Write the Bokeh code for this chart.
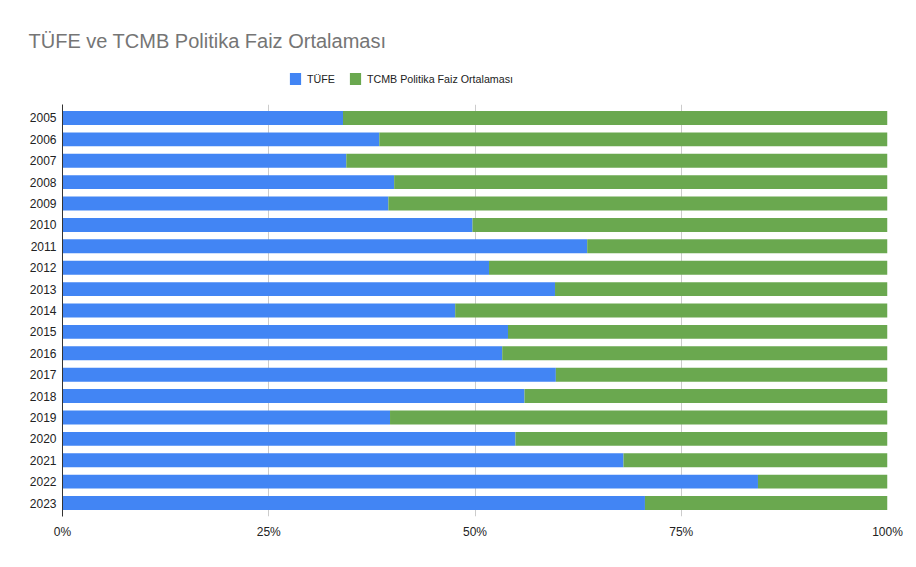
from bokeh.plotting import figure
from bokeh.layouts import column
from bokeh.models import (FactorRange, Range1d, FixedTicker, Legend, LegendItem,
                          ColumnDataSource)
from bokeh.embed import file_html
from bokeh.resources import INLINE

years = ["2005", "2006", "2007", "2008", "2009", "2010", "2011", "2012", "2013", "2014",
         "2015", "2016", "2017", "2018", "2019", "2020", "2021", "2022", "2023"]
tufe = [34.0, 38.4, 34.4, 40.2, 39.5, 49.7, 63.6, 51.7, 59.7, 47.6,
        54.0, 53.3, 59.8, 56.0, 39.7, 54.9, 68.0, 84.3, 70.6]
faiz = [66.0, 61.6, 65.6, 59.8, 60.5, 50.3, 36.4, 48.3, 40.3, 52.4,
        46.0, 46.7, 40.2, 44.0, 60.3, 45.1, 32.0, 15.7, 29.4]
x_ticks = [0, 25, 50, 75, 100]
x_labels = ["0%", "25%", "50%", "75%", "100%"]
series_names = ["TÜFE", "TCMB Politika Faiz Ortalaması"]
colors = ["#4285F4", "#6AA84F"]
title_text = "TÜFE ve TCMB Politika Faiz Ortalaması"

FONT = "Liberation Sans"
W = 908
TOP_H = 104

# ---- header: title + legend ----
top = figure(width=W, height=TOP_H, output_backend="svg", toolbar_location=None,
             x_range=Range1d(0, 1), y_range=Range1d(0, 1),
             x_axis_type=None, y_axis_type=None,
             min_border_left=62, min_border_right=21, min_border_top=56, min_border_bottom=0)
top.outline_line_color = None
top.grid.visible = False

top.title.text = title_text
top.title.text_font = FONT
top.title.text_font_size = "20px"
top.title.text_color = "#757575"
top.title.text_font_style = "normal"
top.title.align = "left"
top.title.offset = -34

# zero-size legend proxies (legend swatches only)
proxies = [top.hbar(y=[0], left=[0], right=[0], height=0, fill_color=c, line_color=None)
           for c in colors]

legend = Legend(items=[LegendItem(label=n, renderers=[r]) for n, r in zip(series_names, proxies)],
                orientation="horizontal", location=(226, 18),
                glyph_width=14, glyph_height=15, label_height=15, label_standoff=5,
                spacing=13, padding=0, margin=0, border_line_color=None,
                background_fill_alpha=0, label_text_font=FONT, label_text_font_size="10.7px",
                label_text_color="#222222")
top.add_layout(legend, "center")

# ---- main chart ----
source = ColumnDataSource(data=dict(year=years, tufe=tufe, faiz=faiz))

p = figure(width=W, height=454, output_backend="svg", toolbar_location=None,
           y_range=FactorRange(factors=list(reversed(years)), range_padding=0.0137),
           x_range=Range1d(0, 100),
           min_border_left=62, min_border_right=21, min_border_top=0, min_border_bottom=42)

p.hbar_stack(["tufe", "faiz"], y="year", height=0.65, color=colors,
             line_color=None, source=source)

p.outline_line_color = None
p.ygrid.grid_line_color = None
p.xgrid.grid_line_color = "#cccccc"
p.xgrid.grid_line_width = 1

p.xaxis.ticker = FixedTicker(ticks=x_ticks)
p.xaxis.major_label_overrides = {t_: l for t_, l in zip(x_ticks, x_labels)}
p.xaxis.axis_line_color = None
p.xaxis.major_tick_line_color = None
p.xaxis.major_tick_out = 0
p.xaxis.minor_tick_line_color = None
p.xaxis.major_label_standoff = 8
p.xaxis.major_label_text_font = FONT
p.xaxis.major_label_text_font_size = "12px"
p.xaxis.major_label_text_color = "#222222"

p.yaxis.axis_line_color = "#333333"
p.yaxis.major_tick_line_color = None
p.yaxis.major_tick_out = 0
p.yaxis.minor_tick_line_color = None
p.yaxis.major_label_standoff = 6
p.yaxis.major_label_text_font = FONT
p.yaxis.major_label_text_font_size = "12px"
p.yaxis.major_label_text_color = "#222222"

layout = column(top, p, spacing=0)

open("out.html", "w").write(file_html(layout, INLINE))
